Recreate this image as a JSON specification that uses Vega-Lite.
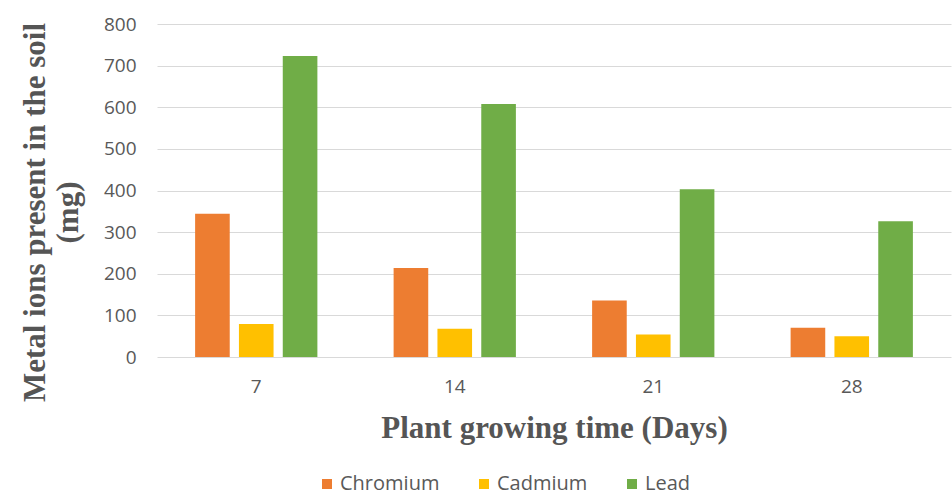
{
  "$schema": "https://vega.github.io/schema/vega-lite/v6.json",
  "autosize": {"type": "none"},
  "width": 794,
  "height": 333,
  "padding": {"left": 157, "top": 24, "right": 1, "bottom": 138},
  "background": "white",
  "config": {
    "view": {"stroke": null},
    "font": "Open Sans"
  },
  "data": {
    "values": [
      {"day": "7", "metal": "Chromium", "mg": 344},
      {"day": "7", "metal": "Cadmium", "mg": 79},
      {"day": "7", "metal": "Lead", "mg": 723},
      {"day": "14", "metal": "Chromium", "mg": 214},
      {"day": "14", "metal": "Cadmium", "mg": 68},
      {"day": "14", "metal": "Lead", "mg": 608},
      {"day": "21", "metal": "Chromium", "mg": 136},
      {"day": "21", "metal": "Cadmium", "mg": 54},
      {"day": "21", "metal": "Lead", "mg": 403},
      {"day": "28", "metal": "Chromium", "mg": 70},
      {"day": "28", "metal": "Cadmium", "mg": 50},
      {"day": "28", "metal": "Lead", "mg": 326}
    ]
  },
  "mark": {"type": "bar"},
  "encoding": {
    "x": {
      "field": "day",
      "type": "ordinal",
      "sort": ["7", "14", "21", "28"],
      "scale": {"paddingInner": 0.384, "paddingOuter": 0.192},
      "axis": {
        "title": "Plant growing time (Days)",
        "titleFont": "Liberation Serif",
        "titleFontSize": 31,
        "titleFontWeight": "bold",
        "titleColor": "#555555",
        "titleBaseline": "alphabetic",
        "titleY": 80,
        "labelAngle": 0,
        "labelFont": "Open Sans",
        "labelFontSize": 19,
        "labelColor": "#595959",
        "labelPadding": 20,
        "ticks": false,
        "domain": false,
        "grid": false
      }
    },
    "xOffset": {
      "field": "metal",
      "type": "nominal",
      "sort": ["Chromium", "Cadmium", "Lead"],
      "scale": {"paddingInner": 0.21, "paddingOuter": 0}
    },
    "y": {
      "field": "mg",
      "type": "quantitative",
      "scale": {"domain": [0, 800], "nice": false},
      "axis": {
        "title": ["Metal ions present in the soil", "(mg)"],
        "titleFont": "Liberation Serif",
        "titleFontSize": 31,
        "titleFontWeight": "bold",
        "titleColor": "#555555",
        "titleAngle": -90,
        "titleAlign": "center",
        "titleBaseline": "alphabetic",
        "titleLineHeight": 33,
        "titleX": -113,
        "titleY": 188,
        "values": [0, 100, 200, 300, 400, 500, 600, 700, 800],
        "labelFont": "Open Sans",
        "labelFontSize": 19,
        "labelColor": "#595959",
        "labelPadding": 21,
        "ticks": false,
        "domain": false,
        "gridColor": "#d9d9d9",
        "gridWidth": 1
      }
    },
    "color": {
      "field": "metal",
      "type": "nominal",
      "sort": ["Chromium", "Cadmium", "Lead"],
      "scale": {
        "domain": ["Chromium", "Cadmium", "Lead"],
        "range": ["#ED7D31", "#FFC000", "#70AD47"]
      },
      "legend": {
        "title": null,
        "orient": "none",
        "direction": "horizontal",
        "legendX": 160,
        "legendY": 450,
        "symbolType": "square",
        "symbolSize": 100,
        "symbolStrokeWidth": 0,
        "labelFont": "Open Sans",
        "labelFontSize": 20,
        "labelColor": "#595959",
        "labelOffset": 3,
        "columnPadding": 34
      }
    }
  }
}
